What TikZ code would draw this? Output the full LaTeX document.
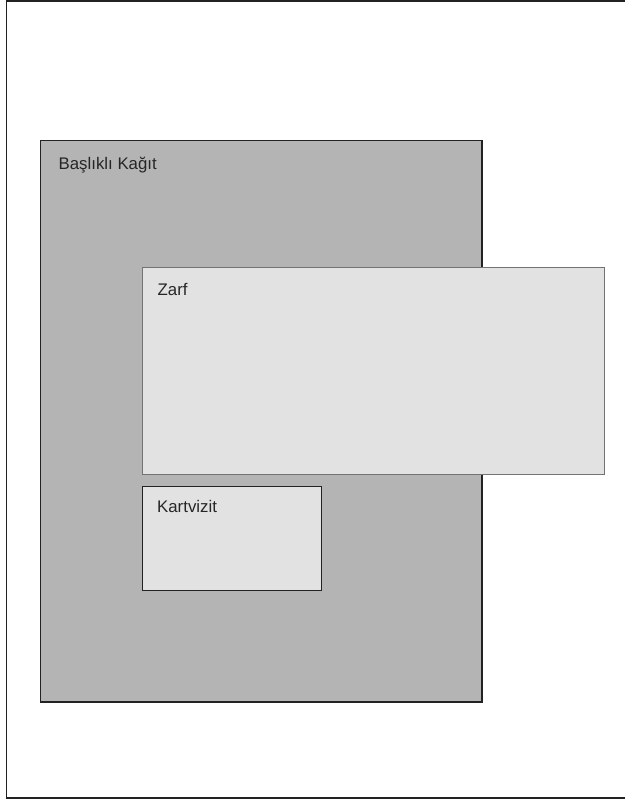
\documentclass[tikz,border=0pt]{standalone}
\usepackage{fontspec}
\setmainfont{Liberation Sans}
\definecolor{paper}{HTML}{B4B4B4}
\definecolor{light}{HTML}{E2E2E2}
\definecolor{edge}{HTML}{222222}
\begin{document}
\begin{tikzpicture}[x=1pt,y=-1pt,
  lbl/.style={anchor=base west,inner sep=0pt,font=\fontsize{16.8}{20}\selectfont,text=black!85},
  bigbox/.style={fill=paper,draw=edge,line width=1.2pt},
  envbox/.style={fill=light,draw=black!55,line width=1pt},
  cardbox/.style={fill=light,draw=edge,line width=1pt}]
\useasboundingbox (0,0) rectangle (624,800);
\fill[white] (0,0) rectangle (624,800);
\draw[edge,line width=1.5pt] (630,0.8) -- (6.5,0.8) -- (6.5,798.2) -- (630,798.2);
\draw[bigbox] (40.5,140.5) rectangle (482,702);
\draw[envbox] (142.5,267.5) rectangle (604.5,474.5);
\draw[cardbox] (142.5,486.5) rectangle (321,590);
\node[lbl] (baslik) at (58.5,169) {Başlıklı Kağıt};
\node[lbl] (zarf) at (157.5,295) {Zarf};
\node[lbl] (kart) at (157,512) {Kartvizit};
\end{tikzpicture}
\end{document}
